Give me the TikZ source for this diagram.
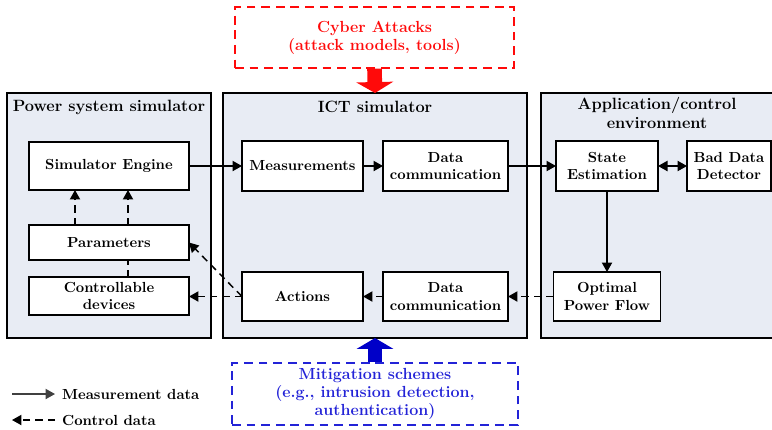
\documentclass[tikz,border=0pt]{standalone}
\usepackage{tikz}
\usetikzlibrary{arrows.meta}

\definecolor{framefill}{RGB}{232,236,244}
\definecolor{atkred}{RGB}{255,10,10}
\definecolor{mitblue}{RGB}{35,35,215}
\definecolor{mitarrow}{RGB}{0,0,200}
\definecolor{legendgray}{RGB}{64,64,64}
\def\pxu{0.685pt}

\tikzset{
  frame/.style={draw, line width=1.3pt, fill=framefill, inner sep=0pt, outer sep=0pt},
  box/.style={draw, line width=0.9pt, fill=white, font=\bfseries, align=center, inner sep=1pt, outer sep=0pt},
  title/.style={font=\fontsize{11.2}{13}\selectfont\bfseries, align=center},
  tip/.style={-{Triangle[width=7pt,length=6.5pt]}},
  measline/.style={line width=1pt, tip},
  ctrlline/.style={line width=1pt, dash pattern=on 5pt off 3.5pt, tip},
  threatbox/.style={draw, line width=1pt, dash pattern=on 6pt off 4pt, font=\fontsize{11}{12.4}\selectfont\bfseries, align=center, inner sep=0pt},
  bigarrow/.style={line width=10pt, -{Triangle[width=25pt,length=7.5pt]}}
}

\begin{document}
\begin{tikzpicture}[x=\pxu, y=-\pxu]
  \useasboundingbox (0,0) rectangle (772,429);

  % simulator frames
  \node[frame, minimum width=204*\pxu, minimum height=245*\pxu] (ps) at (109,215.5) {};
  \node[frame, minimum width=304*\pxu, minimum height=245*\pxu] (ict) at (375,215.5) {};
  \node[frame, minimum width=235*\pxu, minimum height=245*\pxu] (app) at (658.5,215.5) {};

  % frame titles
  \node[title] (pstitle) at (109,107) {Power system simulator};
  \node[title] (icttitle) at (375,107) {ICT simulator};
  \node[title] (apptitle) at (657,113) {Application/control\\environment};

  % power system simulator blocks
  \node[box, minimum width=160*\pxu, minimum height=48*\pxu] (engine) at (109,166) {Simulator Engine};
  \node[box, minimum width=160*\pxu, minimum height=35*\pxu] (param) at (109,242.5) {Parameters};
  \node[box, minimum width=160*\pxu, minimum height=38*\pxu] (devices) at (109,296) {Controllable\\devices};

  % ICT simulator blocks
  \node[box, minimum width=121*\pxu, minimum height=50*\pxu] (meas) at (302.5,166) {Measurements};
  \node[box, minimum width=125*\pxu, minimum height=50*\pxu] (commup) at (445.5,166) {Data\\communication};
  \node[box, minimum width=121*\pxu, minimum height=49*\pxu] (actions) at (302.5,296.5) {Actions};
  \node[box, minimum width=125*\pxu, minimum height=49*\pxu] (commdown) at (445.5,296.5) {Data\\communication};

  % application blocks
  \node[box, minimum width=102*\pxu, minimum height=50*\pxu] (stateest) at (607,166) {State\\Estimation};
  \node[box, minimum width=84*\pxu, minimum height=50*\pxu] (baddata) at (729,166) {Bad Data\\Detector};
  \node[box, minimum width=107*\pxu, minimum height=49*\pxu] (opf) at (607,296.5) {Optimal\\Power Flow};

  % measurement path
  \draw[measline] (engine) -- (meas);
  \draw[measline] (meas) -- (commup);
  \draw[measline] (commup) -- (stateest);
  \draw[line width=1pt, {Triangle[width=7pt,length=6.5pt]}-{Triangle[width=7pt,length=6.5pt]}] (stateest) -- (baddata);
  \draw[measline] (stateest) -- (opf);

  % control path
  \draw[ctrlline] (opf) -- (commdown);
  \draw[ctrlline] (commdown) -- (actions);
  \draw[ctrlline] (actions.west) -- (devices.east |- actions.west);
  \draw[ctrlline] (actions.west) -- (param.east);
  \draw[ctrlline] ([xshift=-34*\pxu]param.north) -- ([xshift=-34*\pxu]engine.south);
  \draw[ctrlline] ([xshift=19*\pxu]param.north) -- ([xshift=19*\pxu]engine.south);
  \draw[line width=1pt, dash pattern=on 5pt off 3.5pt] ([xshift=19*\pxu]devices.north) -- ([xshift=19*\pxu]param.south);

  % cyber attacks
  \node[threatbox, draw=atkred, text=atkred, minimum width=279*\pxu, minimum height=61*\pxu] (attacks) at (374.5,37.5) {Cyber Attacks\\(attack models, tools)};
  \draw[bigarrow, atkred] (attacks.south) -- (ict.north);

  % mitigation
  \node[threatbox, draw=mitblue, text=mitblue, minimum width=286*\pxu, minimum height=62*\pxu] (mitig) at (375,394) {Mitigation schemes\\(e.g., intrusion detection,\\authentication)};
  \draw[bigarrow, mitarrow] (mitig.north) -- (ict.south);

  % legend
  \coordinate (measfrom) at (12,394);
  \coordinate (measto) at (55,394);
  \coordinate (ctrlfrom) at (55,420);
  \coordinate (ctrlto) at (12,420);
  \draw[measline, legendgray] (measfrom) -- (measto);
  \draw[ctrlline] (ctrlfrom) -- (ctrlto);
  \node[font=\bfseries, anchor=west] (measlabel) at (57,394) {Measurement data};
  \node[font=\bfseries, anchor=west] (ctrllabel) at (57,420) {Control data};
\end{tikzpicture}
\end{document}
